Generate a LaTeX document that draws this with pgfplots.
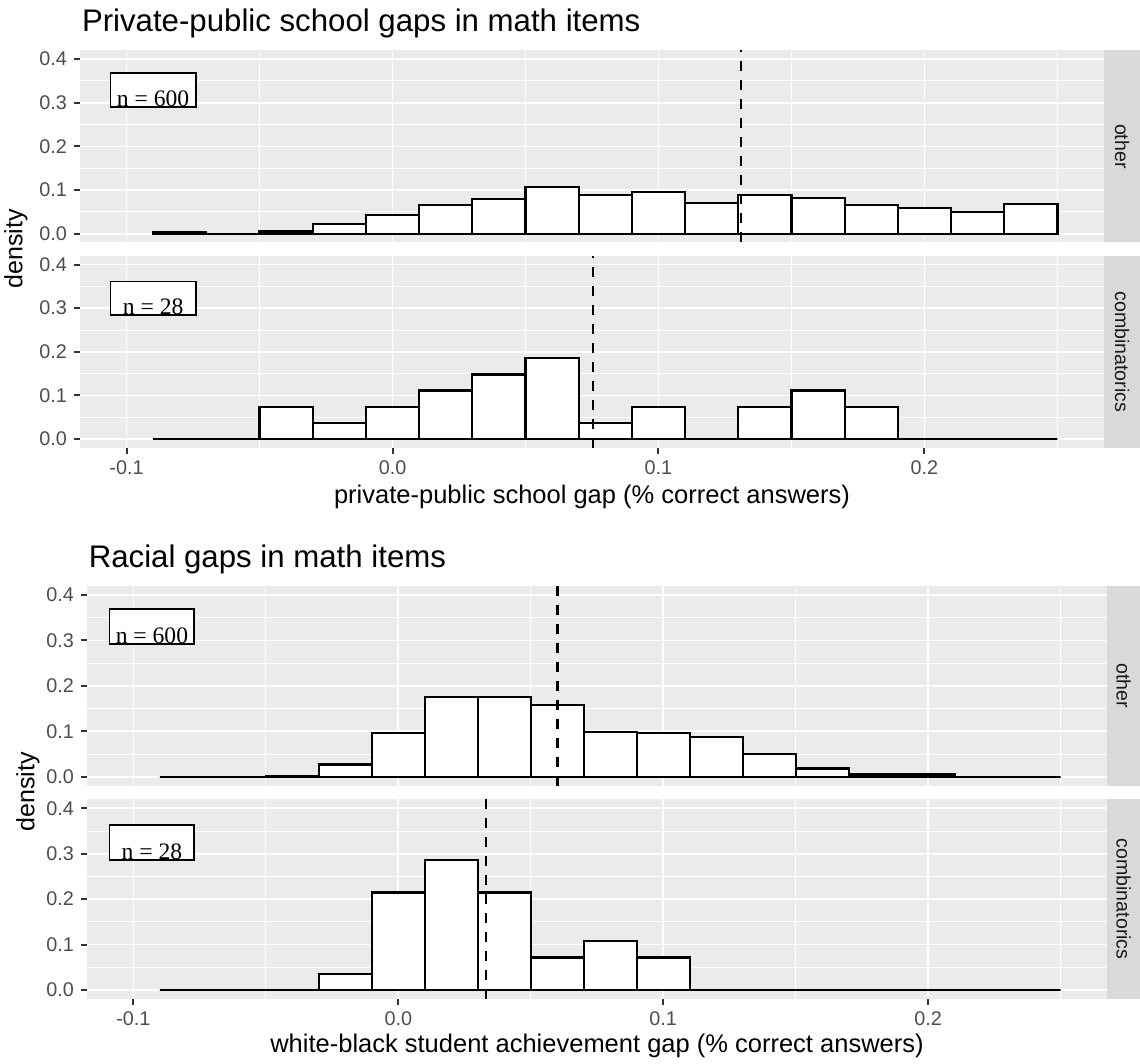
\documentclass[border=0pt]{standalone}
\usepackage{pgfplots}
\usepackage{pgfplotstable}
\pgfplotsset{compat=1.18}
\usepackage{fontspec}
\setmainfont{Liberation Sans}
\newfontfamily\serifnum{Liberation Serif}
\definecolor{panelbg}{HTML}{EBEBEB}
\definecolor{stripbg}{HTML}{D9D9D9}
\definecolor{gthirty}{HTML}{4D4D4D}
\definecolor{gten}{HTML}{1A1A1A}
\definecolor{gtwenty}{HTML}{333333}

% bin left edges (width 0.02); last row repeats the final bin for ybar interval
\pgfplotstableread{
x      p1     p2      p3     p4
-0.09  0.003  0       0      0
-0.07  0.000  0       0      0
-0.05  0.005  0.0741  0.002  0
-0.03  0.023  0.0370  0.027  0.0357
-0.01  0.043  0.0741  0.097  0.2143
0.01   0.066  0.1111  0.176  0.2857
0.03   0.079  0.1481  0.176  0.2143
0.05   0.107  0.1852  0.158  0.0714
0.07   0.088  0.0370  0.098  0.1071
0.09   0.096  0.0741  0.096  0.0714
0.11   0.070  0       0.088  0
0.13   0.088  0.0741  0.050  0
0.15   0.082  0.1111  0.018  0
0.17   0.066  0.0741  0.005  0
0.19   0.059  0       0.005  0
0.21   0.050  0       0      0
0.23   0.068  0       0      0
0.25   0.068  0       0      0
}\hist

\pgfplotsset{
 gg/.style={
  scale only axis,
  xmin=-0.1175, xmax=0.2675, ymin=-0.02, ymax=0.42,
  axis background/.style={fill=panelbg},
  axis line style={draw=none},
  xtick={-0.1,0,0.1,0.2}, minor xtick={-0.05,0.05,0.15,0.25},
  ytick={0,0.1,0.2,0.3,0.4}, minor ytick={0.05,0.15,0.25,0.35},
  yticklabels={0.0,0.1,0.2,0.3,0.4},
  xticklabels={-0.1,0.0,0.1,0.2},
  grid=both,
  major grid style={white, line width=0.85pt},
  minor grid style={white, line width=0.45pt},
  xtick pos=left, ytick pos=left, tick align=outside,
  major tick length=3pt, minor tick length=0pt,
  major tick style={gtwenty, line width=1pt},
  minor tick style={draw=none},
  tick label style={font=\fontsize{9.9}{11}\selectfont, text=gthirty},
 },
 hb/.style={ybar interval, fill=white, draw=black, line width=1.1pt},
 meanl/.style={black, line width=1.25pt, dash pattern=on 5pt off 4.5pt},
}
\tikzset{
 nbox/.style={draw=black, line width=0.9pt, fill=white},
 ntext/.style={anchor=base, font=\serifnum\fontsize{11.8}{13}\selectfont, inner sep=0pt},
}

\begin{document}
\begin{tikzpicture}
\useasboundingbox (0,0) rectangle (570pt,532pt);

% ---------- top plot ----------
\begin{axis}[gg, at={(40pt,410.8pt)}, width=512pt, height=96pt,
  xticklabels={}, xtick style={draw=none}]
  \addplot[hb] table[x=x, y=p1] {\hist};
  \addplot[meanl] coordinates {(0.131,-0.02) (0.131,0.42)};
  \draw[nbox] (axis cs:-0.106,0.291) rectangle (axis cs:-0.074,0.368);
  \node[ntext] at (axis cs:-0.09,0.292) {n = 600};
\end{axis}

\begin{axis}[gg, at={(40pt,308.1pt)}, width=512pt, height=96pt]
  \addplot[hb] table[x=x, y=p2] {\hist};
  \addplot[meanl] coordinates {(0.0753,-0.02) (0.0753,0.42)};
  \draw[nbox] (axis cs:-0.106,0.285) rectangle (axis cs:-0.074,0.361);
  \node[ntext] at (axis cs:-0.09,0.286) {n = 28};
\end{axis}

% strips top
\fill[stripbg] (552pt,410.8pt) rectangle (570pt,506.8pt);
\fill[stripbg] (552pt,308.1pt) rectangle (570pt,404.1pt);
\node[rotate=-90, text=gten, font=\fontsize{9.8}{11}\selectfont] at (561pt,458.8pt) {other};
\node[rotate=-90, text=gten, font=\fontsize{9.8}{11}\selectfont] at (561pt,356.1pt) {combinatorics};

\node[anchor=base west, inner sep=0pt, font=\fontsize{15.6}{18}\selectfont] at (40.8pt,516pt) {Private-public school gaps in math items};
\node[anchor=base, inner sep=0pt, font=\fontsize{12.75}{15}\selectfont] at (296pt,280pt) {private-public school gap (\% correct answers)};
\node[rotate=90, font=\fontsize{12.5}{14}\selectfont] at (8pt,407.5pt) {density};

% ---------- bottom plot ----------
\begin{axis}[gg, at={(43.5pt,139.1pt)}, width=510pt, height=99.9pt,
  xticklabels={}, xtick style={draw=none}]
  \addplot[hb] table[x=x, y=p3] {\hist};
  \addplot[meanl] coordinates {(0.060,-0.02) (0.060,0.42)};
  \draw[nbox] (axis cs:-0.109,0.293) rectangle (axis cs:-0.077,0.369);
  \node[ntext] at (axis cs:-0.093,0.294) {n = 600};
\end{axis}

\begin{axis}[gg, at={(43.5pt,32.5pt)}, width=510pt, height=99.9pt]
  \addplot[hb] table[x=x, y=p4] {\hist};
  \addplot[meanl] coordinates {(0.0331,-0.02) (0.0331,0.42)};
  \draw[nbox] (axis cs:-0.109,0.286) rectangle (axis cs:-0.077,0.363);
  \node[ntext] at (axis cs:-0.093,0.287) {n = 28};
\end{axis}

\fill[stripbg] (553.5pt,139.1pt) rectangle (570pt,239pt);
\fill[stripbg] (553.5pt,32.5pt) rectangle (570pt,132.4pt);
\node[rotate=-90, text=gten, font=\fontsize{9.8}{11}\selectfont] at (561.75pt,189.05pt) {other};
\node[rotate=-90, text=gten, font=\fontsize{9.8}{11}\selectfont] at (561.75pt,82.45pt) {combinatorics};

\node[anchor=base west, inner sep=0pt, font=\fontsize{15.6}{18}\selectfont] at (44.2pt,248pt) {Racial gaps in math items};
\node[anchor=base, inner sep=0pt, font=\fontsize{12.75}{15}\selectfont] at (298.5pt,5.5pt) {white-black student achievement gap (\% correct answers)};
\node[rotate=90, font=\fontsize{12.5}{14}\selectfont] at (14pt,136pt) {density};
\end{tikzpicture}
\end{document}
